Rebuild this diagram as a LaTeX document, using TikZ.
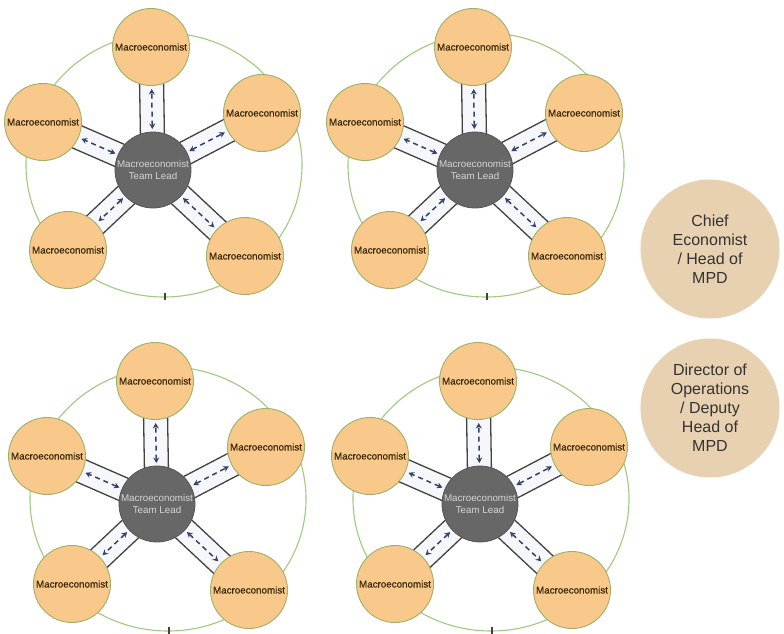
\documentclass[tikz,border=0pt]{standalone}
\usepackage{fontspec}
\setmainfont{Liberation Sans}
\newfontfamily\memberfont[FakeBold=0.6]{Liberation Sans}
\usetikzlibrary{calc,arrows.meta}
\pgfdeclarelayer{back}
\pgfsetlayers{back,main}

\definecolor{memberfill}{HTML}{F8C98A}
\definecolor{memberedge}{HTML}{9DB066}
\definecolor{membertext}{HTML}{3A2808}
\definecolor{leadfill}{HTML}{676767}
\definecolor{leadedge}{HTML}{555555}
\definecolor{leadtext}{HTML}{D6D6D6}
\definecolor{ringcol}{HTML}{9FCB80}
\definecolor{railcol}{HTML}{424242}
\definecolor{lanefill}{HTML}{F6F7FA}
\definecolor{linkcol}{HTML}{34426A}
\definecolor{headfill}{HTML}{E8D1B1}
\definecolor{headtext}{HTML}{333333}

\tikzset{
  member/.style={circle, draw=memberedge, line width=0.9pt, fill=memberfill,
    minimum size=77pt, inner sep=0pt, text=membertext,
    font=\memberfont\fontsize{9.8}{12}\selectfont},
  lead/.style={circle, draw=leadedge, line width=0.8pt, fill=leadfill,
    minimum size=76pt, inner sep=0pt, text=leadtext, align=center,
    font=\fontsize{9.8}{11.7}\selectfont},
  ring/.style={draw=ringcol, line width=1.1pt},
  rail/.style={draw=railcol, line width=1.3pt},
  lane/.style={fill=lanefill},
  link/.style={draw=linkcol, line width=1.5pt, dash pattern=on 5pt off 4pt,
    {Stealth[length=5.5pt,width=6pt]}-{Stealth[length=5.5pt,width=6pt]}},
  head/.style={circle, fill=headfill, minimum size=139pt, inner sep=0pt,
    align=center, text=headtext, font=\fontsize{16}{19}\selectfont},
}

% one corridor with its two rails and the two-way dashed arrow
\newcommand\spoke[2]{%
  \fill[lane] ($(#1)!12pt!90:(#2)$) -- ($(#2)!12pt!-90:(#1)$)
    -- ($(#2)!12pt!90:(#1)$) -- ($(#1)!12pt!-90:(#2)$) -- cycle;
  \draw[rail] ($(#1)!12pt!90:(#2)$) -- ($(#2)!12pt!-90:(#1)$);
  \draw[rail] ($(#1)!12pt!-90:(#2)$) -- ($(#2)!12pt!90:(#1)$);
  \draw[link] ($(#1)!41pt!(#2)$) -- ($(#2)!42pt!(#1)$);
}

% a team: lead in the middle, five members round it
\newcommand\team[3]{%
  \begin{scope}[shift={(#2,#3)}]
    \node[lead] (#1c) at (0,0) {Macroeconomist\\Team Lead};
    \node[member] (#1t)  at (-2,-123) {Macroeconomist};
    \node[member] (#1l)  at (-110,-48) {Macroeconomist};
    \node[member] (#1r)  at (109,-57) {Macroeconomist};
    \node[member] (#1bl) at (-85,80) {Macroeconomist};
    \node[member] (#1br) at (92,86) {Macroeconomist};
    \coordinate (#1tick) at (12,123);
    \begin{pgfonlayer}{back}
      \draw[ring] (11,-5) ellipse [x radius=138pt, y radius=132pt];
      \draw[rail] (#1tick) -- ++(0,7);
      \spoke{#1c}{#1t}
      \spoke{#1c}{#1l}
      \spoke{#1c}{#1r}
      \spoke{#1c}{#1bl}
      \spoke{#1c}{#1br}
    \end{pgfonlayer}
  \end{scope}}

\begin{document}
\begin{tikzpicture}[x=1pt, y=-1pt]
  \begin{pgfonlayer}{back}
    \fill[white] (0,0) rectangle (784,634);
  \end{pgfonlayer}
  \useasboundingbox (0,0) rectangle (784,634);

  \team{a}{153}{170}
  \team{b}{475}{170}
  \team{c}{157}{504}
  \team{d}{480}{504}

  \node[head] (chief) at (710,249) {Chief\\Economist\\/ Head of\\MPD};
  \node[head] (deputy) at (710,408) {Director of\\Operations\\/ Deputy\\Head of\\MPD};
\end{tikzpicture}
\end{document}
